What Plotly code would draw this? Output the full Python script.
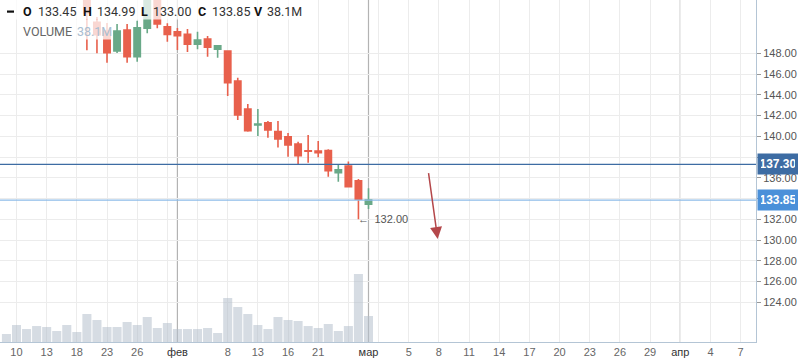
import datetime as dt
import plotly.graph_objects as go

# ---------------- data ----------------
dates = ["2018-01-09", "2018-01-10", "2018-01-11", "2018-01-12", "2018-01-15", "2018-01-16",
         "2018-01-17", "2018-01-18", "2018-01-19", "2018-01-22", "2018-01-23", "2018-01-24",
         "2018-01-25", "2018-01-26", "2018-01-29", "2018-01-30", "2018-01-31", "2018-02-01",
         "2018-02-02", "2018-02-05", "2018-02-06", "2018-02-07", "2018-02-08", "2018-02-09",
         "2018-02-12", "2018-02-13", "2018-02-14", "2018-02-15", "2018-02-16", "2018-02-19",
         "2018-02-20", "2018-02-21", "2018-02-22", "2018-02-26", "2018-02-27", "2018-02-28",
         "2018-03-01"]
open_ = [155.2, 155.6, 156.3, 155.9, 156.2, 156.8, 156.4, 155.6, 154.8, 151.0,
         150.15, 148.22, 150.24, 147.67, 150.41, 153.6, 150.56, 150.08, 149.83, 148.87,
         149.38, 148.39, 148.22, 145.33, 142.63, 141.10, 141.29, 140.45, 139.94, 139.26,
         138.60, 138.59, 138.62, 136.50, 137.14, 135.70, 133.45]
high = [156.0, 156.8, 157.0, 156.6, 157.2, 157.4, 156.9, 156.2, 155.3, 151.5,
        150.92, 150.82, 150.82, 151.14, 154.0, 154.0, 150.89, 150.44, 150.34, 150.08,
        149.67, 148.80, 148.30, 145.65, 143.12, 142.63, 141.48, 141.48, 140.32, 139.48,
        140.13, 139.55, 138.75, 137.34, 137.56, 135.89, 134.99]
low = [154.6, 155.0, 155.5, 155.2, 155.8, 156.0, 155.3, 154.5, 148.3, 148.0,
       147.09, 148.03, 147.09, 147.19, 149.93, 150.41, 149.12, 148.32, 148.13, 148.39,
       147.67, 147.57, 143.89, 141.57, 140.45, 140.03, 139.87, 138.91, 138.04, 137.34,
       137.46, 137.98, 136.11, 135.63, 135.10, 132.00, 133.00]
close = [155.6, 156.3, 155.9, 156.2, 156.8, 156.4, 155.6, 154.8, 151.9, 149.8,
         148.06, 150.15, 147.67, 150.47, 153.5, 150.82, 149.83, 149.70, 148.87, 149.28,
         148.58, 148.73, 145.17, 142.06, 140.54, 141.18, 140.61, 139.74, 139.17, 138.13,
         138.56, 138.42, 136.69, 136.76, 135.15, 133.93, 133.85]
volume_m = [11.7, 24.9, 19.0, 23.4, 22.0, 16.1, 24.9, 14.7, 41.0, 32.2,
            22.0, 22.0, 29.3, 24.9, 36.6, 20.5, 27.8, 19.0, 19.0, 19.0,
            20.5, 13.2, 64.5, 51.3, 41.0, 24.9, 19.0, 36.6, 32.2, 30.8,
            23.4, 20.5, 26.4, 16.1, 23.4, 99.6, 38.1]

tick_dates = ["2018-01-10", "2018-01-15", "2018-01-18", "2018-01-23", "2018-01-26", "2018-02-01",
              "2018-02-08", "2018-02-13", "2018-02-16", "2018-02-21", "2018-03-01", "2018-03-05",
              "2018-03-08", "2018-03-11", "2018-03-14", "2018-03-17", "2018-03-20", "2018-03-23",
              "2018-03-26", "2018-03-29", "2018-04-01", "2018-04-04", "2018-04-07"]
tick_labels = ["10", "13", "18", "23", "26", "фев", "8", "13", "16", "21", "мар", "5",
               "8", "11", "14", "17", "20", "23", "26", "29", "апр", "4", "7"]
month_starts = ["2018-02-01", "2018-03-01", "2018-04-01"]

price_ticks = [124, 126, 128, 130, 132, 134, 136, 138, 140, 142, 144, 146, 148]
hidden_price_ticks = [134, 138]

level_dark = 137.30
level_last = 133.85
last_ohlcv = {"O": "133.45", "H": "134.99", "L": "133.00", "C": "133.85", "V": "38.1M"}
low_note = 132.00
arrow_from = (41.95, 136.6)
arrow_to = (42.88, 130.1)

# ---------------- helpers ----------------
last_date = dt.date.fromisoformat(dates[-1])


def pos(d):
    if d in dates:
        return dates.index(d)
    return len(dates) - 1 + (dt.date.fromisoformat(d) - last_date).days


xs = [pos(d) for d in dates]
tick_pos = [pos(d) for d in tick_dates]
tick_text = [(f'<span style="color:#333">{t}</span>' if not t.isdigit() else t) for t in tick_labels]

PW, PH = 756, 342


def xp(px):
    return px / PW


def yp(py):
    return 1 - py / PH


RED = "#e8604c"
GREEN = "#69a988"
FONT = "Liberation Sans, Arial, sans-serif"

fig = go.Figure()

fig.add_trace(go.Bar(
    x=xs, y=volume_m, yaxis="y2",
    marker=dict(color="rgba(181,191,204,0.55)", line=dict(width=0)),
    hoverinfo="skip", showlegend=False,
))

fig.add_trace(go.Candlestick(
    x=xs, open=open_, high=high, low=low, close=close,
    increasing=dict(line=dict(color=GREEN, width=1.6), fillcolor=GREEN),
    decreasing=dict(line=dict(color=RED, width=1.6), fillcolor=RED),
    whiskerwidth=0, showlegend=False,
))

shapes = []
# month separators
for m in month_starts:
    shapes.append(dict(type="line", xref="x", yref="paper", x0=pos(m), x1=pos(m), y0=0, y1=1,
                       line=dict(color="#b3b3b3", width=1.2), layer="below"))
# price levels
shapes.append(dict(type="line", xref="paper", yref="y", x0=0, x1=1, y0=level_dark, y1=level_dark,
                   line=dict(color="#3d6ca3", width=1.3), layer="above"))
shapes.append(dict(type="line", xref="paper", yref="y", x0=0, x1=1, y0=level_last, y1=level_last,
                   line=dict(color="#8dbbe8", width=1.2), layer="above"))
# legend backgrounds
shapes.append(dict(type="rect", xref="paper", yref="paper", x0=xp(0), x1=xp(300), y0=yp(19.5), y1=yp(0),
                   fillcolor="rgba(255,255,255,0.75)", line=dict(width=0), layer="above"))
shapes.append(dict(type="rect", xref="paper", yref="paper", x0=xp(18), x1=xp(113), y0=yp(39.5), y1=yp(19.5),
                   fillcolor="rgba(255,255,255,0.75)", line=dict(width=0), layer="above"))
# legend dash
shapes.append(dict(type="rect", xref="paper", yref="paper", x0=xp(7), x1=xp(14), y0=yp(12.7), y1=yp(10.5),
                   fillcolor="#111", line=dict(width=0), layer="above"))

annotations = []
row1 = [("O", 22, True), (last_ohlcv["O"], 37, False), ("H", 82, True), (last_ohlcv["H"], 96, False),
        ("L", 140, True), (last_ohlcv["L"], 152, False), ("C", 197, True), (last_ohlcv["C"], 211, False),
        ("V", 253, True), (last_ohlcv["V"], 266, False)]
for txt, x0, bold in row1:
    annotations.append(dict(
        xref="paper", yref="paper", x=xp(x0), y=yp(11.7), xanchor="left", yanchor="middle",
        text=f"<b>{txt}</b>" if bold else txt, showarrow=False, borderpad=0,
        font=dict(family="Roboto, " + FONT, size=12.5, color="#111" if bold else "#333")))
annotations.append(dict(xref="paper", yref="paper", x=xp(22), y=yp(31.5), xanchor="left", yanchor="middle",
                        text="VOLUME", showarrow=False, borderpad=0,
                        font=dict(family="Roboto, " + FONT, size=12.5, color="#666")))
annotations.append(dict(xref="paper", yref="paper", x=xp(76), y=yp(31.5), xanchor="left", yanchor="middle",
                        text=last_ohlcv["V"], showarrow=False, borderpad=0,
                        font=dict(family="Roboto, " + FONT, size=12.5, color="#a9bdd0")))

# price label boxes
for lvl, col in [(level_dark, "#3d6ca3"), (level_last, "#4a90d9")]:
    annotations.append(dict(
        xref="paper", yref="y", x=1.0, y=lvl, xanchor="left", yanchor="middle",
        text=f"<b>{lvl:.2f}</b>", showarrow=False, bgcolor=col, borderpad=3, xshift=1,
        font=dict(family=FONT, size=12, color="white"), width=34))

# low annotation
annotations.append(dict(xref="x", yref="y", x=xs[-2], y=low_note, xanchor="left", yanchor="middle",
                        text=f"\u2190\u2002{low_note:.2f}", showarrow=False, xshift=-2,
                        font=dict(family=FONT, size=11, color="#555")))

# drawn arrow
annotations.append(dict(xref="x", yref="y", axref="x", ayref="y",
                        x=arrow_to[0], y=arrow_to[1], ax=arrow_from[0], ay=arrow_from[1],
                        showarrow=True, arrowhead=2, arrowsize=1.6, arrowwidth=1.5,
                        arrowcolor="#b4474a", text=""))

fig.update_layout(
    width=798, height=363,
    margin=dict(l=0, r=42, t=0, b=21, pad=0),
    paper_bgcolor="white", plot_bgcolor="white",
    font=dict(family=FONT, size=11, color="#555"),
    showlegend=False, bargap=0.1, boxgap=0.1,
    shapes=shapes, annotations=annotations,
    xaxis=dict(
        range=[-0.64, 74.53], tickmode="array", tickvals=tick_pos, ticktext=tick_text,
        showgrid=False, zeroline=False, ticks="", tickfont=dict(size=11, color="#666"),
        showline=True, linecolor="#b4c5d5", linewidth=1, mirror=True,
        rangeslider=dict(visible=False),
        minor=dict(tick0=1, dtick=3, showgrid=True, gridcolor="#ececec", gridwidth=1),
    ),
    yaxis=dict(
        side="right", range=[120.17, 153.14], tickmode="array", tickvals=price_ticks,
        ticktext=["" if v in hidden_price_ticks else f"{v:.2f}" for v in price_ticks],
        showgrid=True, gridcolor="#ececec", gridwidth=1, zeroline=False,
        ticks="outside", ticklen=4, tickcolor="#999", tickfont=dict(size=11, color="#555"),
        showline=True, linecolor="#b4c5d5", linewidth=1,
    ),
    yaxis2=dict(overlaying="y", range=[0, 501], visible=False, fixedrange=True),
)

fig.write_html("out.html", config={"displayModeBar": False},
               post_script="document.body.style.margin='0';document.body.style.padding='0';")
